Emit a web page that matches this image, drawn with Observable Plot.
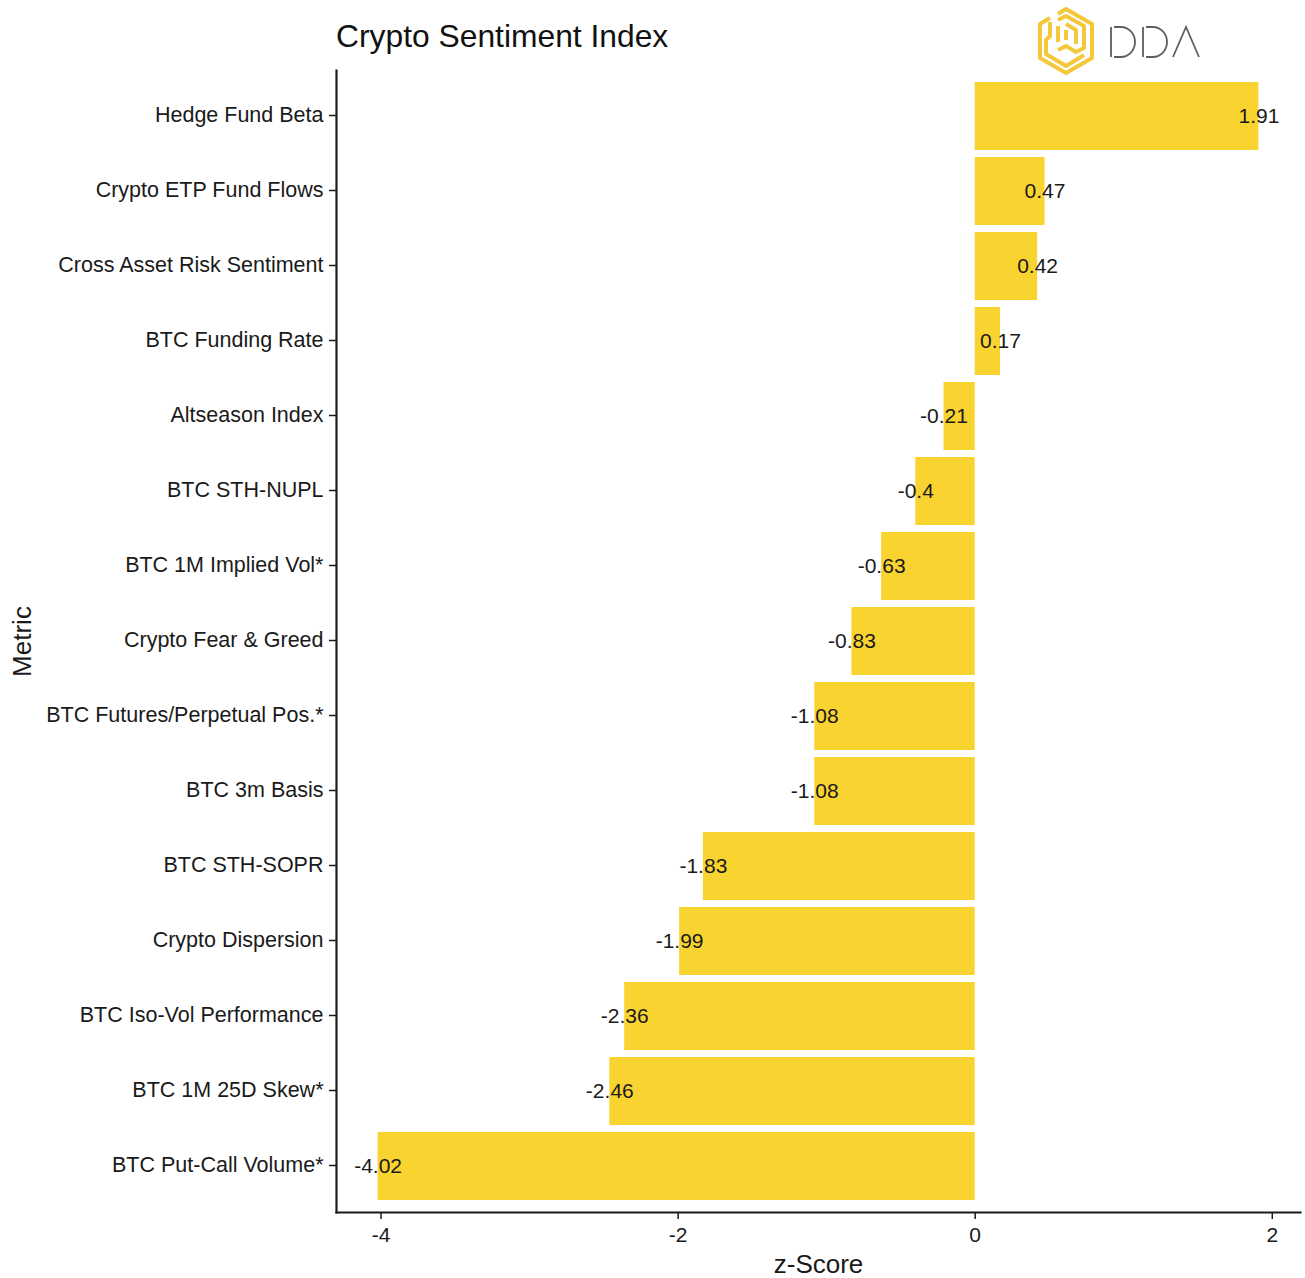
<!DOCTYPE html>
<html>
<head>
<meta charset="utf-8">
<script src="https://cdn.jsdelivr.net/npm/d3@7"></script>
<script src="https://cdn.jsdelivr.net/npm/@observablehq/plot@0.6"></script>
<style>
  html, body { margin: 0; padding: 0; background: #fff; }
  #wrap { position: relative; width: 1305px; height: 1278px; font-family: "Liberation Sans", Arial, sans-serif; }
  #title { position: absolute; left: 336px; top: 18px; font-size: 31.8px; color: #111; white-space: nowrap; }
  #logo { position: absolute; left: 1030px; top: 4px; }
  #chart { position: absolute; left: 0; top: 0; }
</style>
</head>
<body>
<div id="wrap">
  <div id="chart"></div>
  <div id="title">Crypto Sentiment Index</div>
  <svg id="logo" width="190" height="76" viewBox="1030 4 190 76">
    <g fill="none" stroke="#F4C83A" stroke-width="4" stroke-linejoin="round" stroke-linecap="butt">
      <path d="M1058,14 L1066,9 L1092,24 L1092,58 L1066,73 L1040,58 L1040,24 L1050,18"/>
      <path d="M1050,22 L1050,36 L1046,40 L1046,54 L1066,66 L1084,55"/>
      <path d="M1058,20 L1066,16 L1084,26 L1084,48 L1076,52 L1066,46 L1058,50"/>
      <path d="M1058,26 L1058,42"/>
      <path d="M1066,24 L1076,30 L1076,44"/>
      <path d="M1066,30 L1066,40"/>
    </g>
    <g fill="none" stroke="#5f5f5f" stroke-width="1.8">
      <path d="M1111,27 L1111,57"/>
      <path d="M1114,27 L1121,27 A14 15 0 0 1 1121,57 L1114,57"/>
      <path d="M1143,27 L1143,57"/>
      <path d="M1146,27 L1153,27 A14 15 0 0 1 1153,57 L1146,57"/>
      <path d="M1173,57 L1186,27 L1199,57"/>
    </g>
  </svg>
</div>
<script>
// Metrics, top to bottom
const metrics = [
  "Hedge Fund Beta",
  "Crypto ETP Fund Flows",
  "Cross Asset Risk Sentiment",
  "BTC Funding Rate",
  "Altseason Index",
  "BTC STH-NUPL",
  "BTC 1M Implied Vol*",
  "Crypto Fear & Greed",
  "BTC Futures/Perpetual Pos.*",
  "BTC 3m Basis",
  "BTC STH-SOPR",
  "Crypto Dispersion",
  "BTC Iso-Vol Performance",
  "BTC 1M 25D Skew*",
  "BTC Put-Call Volume*"
];
// z-scores for each metric
const zScores = [1.91, 0.47, 0.42, 0.17, -0.21, -0.4, -0.63, -0.83, -1.08, -1.08, -1.83, -1.99, -2.36, -2.46, -4.02];
const xTicks = [-4, -2, 0, 2];

const data = metrics.map((m, i) => ({metric: m, z: zScores[i]}));

const xDomain = [-4.3, 2.19];
const ink = "#1a1a1a";

const chart = Plot.plot({
  width: 1305,
  height: 1278,
  marginLeft: 336,
  marginRight: 5,
  marginTop: 70,
  marginBottom: 66,
  style: {fontFamily: "Liberation Sans, Arial, sans-serif", fontSize: "21px", color: ink, background: "transparent"},
  x: {domain: xDomain, ticks: xTicks},
  y: {domain: metrics, paddingInner: 0.1, paddingOuter: 0.143},
  marks: [
    Plot.barX(data, {x1: 0, x2: "z", y: "metric", fill: "#F9D330"}),
    Plot.text(data, {x: "z", y: "metric", text: d => String(d.z), fill: ink, fontSize: 21, textAnchor: "middle", dy: 0}),
    Plot.axisY({tickSize: 7, tickPadding: 6, fontSize: 21.5, label: null, stroke: ink, strokeWidth: 1.5, dy: -1}),
    Plot.axisX({ticks: xTicks, tickSize: 7, tickPadding: 8, fontSize: 21, label: null, stroke: ink, strokeWidth: 1.5, tickFormat: d => String(d)}),
    Plot.frame({anchor: "left", stroke: ink, strokeWidth: 2.2}),
    Plot.frame({anchor: "bottom", stroke: ink, strokeWidth: 2.2}),
    Plot.text(["z-Score"], {frameAnchor: "bottom", dy: 60, fontSize: 26, fill: ink}),
    Plot.text(["Metric"], {frameAnchor: "left", dx: -314, rotate: -90, textAnchor: "middle", fontSize: 26, fill: ink})
  ]
});
document.getElementById("chart").appendChild(chart);
</script>
</body>
</html>
